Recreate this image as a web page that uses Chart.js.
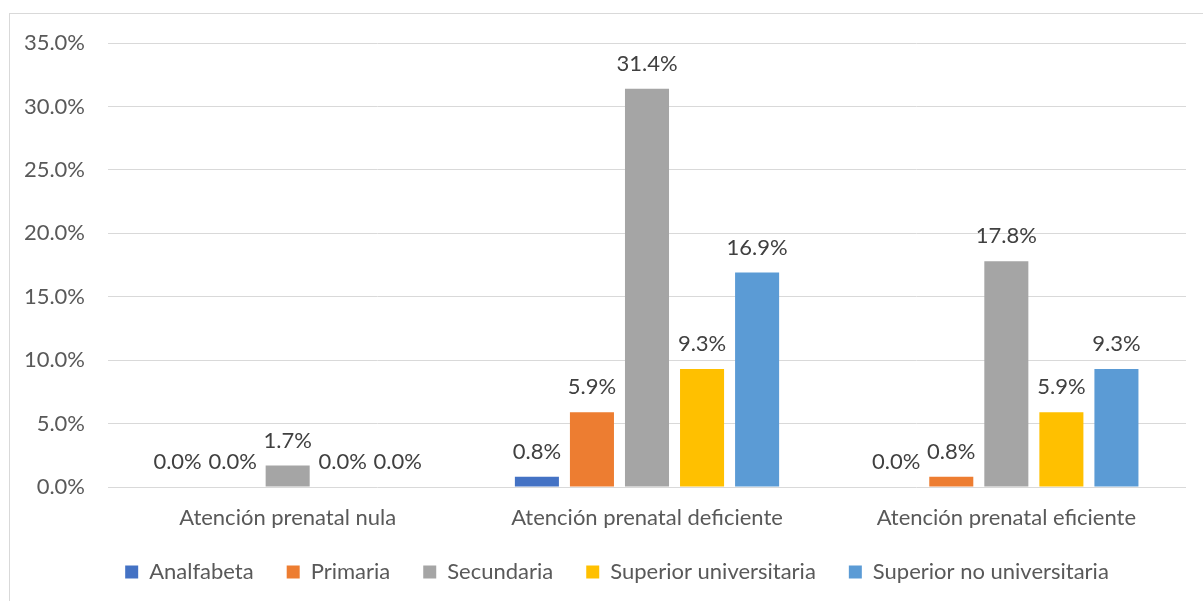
<!DOCTYPE html>
<html>
<head>
<meta charset="utf-8">
<script src="https://cdn.jsdelivr.net/npm/chart.js@4"></script>
<style>
    html, body { margin: 0; padding: 0; background: #fff; }
    #frame {
        position: absolute; left: 9px; top: 13px;
        width: 1210px; height: 610px;
        border: 1px solid #d9d9d9;
    }
    #wrap { position: absolute; left: 0; top: 0; width: 1203px; height: 601px; }
</style>
</head>
<body>
<div id="frame"></div>
<div id="wrap"><canvas id="chart" width="1203" height="601"></canvas></div>
<script>
// Categories and series (percent)
const categories = ["Atención prenatal nula", "Atención prenatal deficiente", "Atención prenatal eficiente"];
const analfabeta = [0.0, 0.8, 0.0];
const primaria = [0.0, 5.9, 0.8];
const secundaria = [1.7, 31.4, 17.8];
const superiorUniv = [0.0, 9.3, 5.9];
const superiorNoUniv = [0.0, 16.9, 9.3];
const yTicks = [0, 5, 10, 15, 20, 25, 30, 35];

const FONT = "Lato, 'Open Sans', sans-serif";

// draws the value above each bar
const valueLabels = {
    id: "valueLabels",
    afterDatasetsDraw(chart) {
        const ctx = chart.ctx;
        ctx.save();
        ctx.font = "22px " + FONT;
        ctx.fillStyle = "#404040";
        ctx.textAlign = "center";
        ctx.textBaseline = "middle";
        chart.data.datasets.forEach((ds, i) => {
            chart.getDatasetMeta(i).data.forEach((bar, j) => {
                ctx.fillText(ds.data[j].toFixed(1) + "%", bar.x, bar.y - 25);
            });
        });
        ctx.restore();
    },
};

// legend in the original is centred on the frame, a bit to the right
const legendShift = {
    id: "legendShift",
    afterLayout(chart) {
        chart.legend.left += 24;
        chart.legend.right += 24;
    },
};

function makeSet(label, data, color) {
    return {
        label: label,
        data: data,
        backgroundColor: color,
        borderWidth: 0,
        barPercentage: 0.8,
        categoryPercentage: 0.766,
    };
}

new Chart(document.getElementById("chart"), {
    type: "bar",
    data: {
        labels: categories,
        datasets: [
            makeSet("Analfabeta", analfabeta, "#4472C4"),
            makeSet("Primaria", primaria, "#ED7D31"),
            makeSet("Secundaria", secundaria, "#A5A5A5"),
            makeSet("Superior universitaria", superiorUniv, "#FFC000"),
            makeSet("Superior no universitaria", superiorNoUniv, "#5B9BD5"),
        ],
    },
    options: {
        responsive: false,
        animation: false,
        layout: { padding: { top: 43, right: 17, bottom: 8, left: 0 } },
        plugins: {
            tooltip: { enabled: false },
            legend: {
                position: "bottom",
                labels: {
                    boxWidth: 13,
                    boxHeight: 13,
                    padding: 33,
                    color: "#595959",
                    font: { family: FONT, size: 22 },
                },
            },
        },
        scales: {
            x: {
                grid: { display: false },
                border: { display: false },
                ticks: {
                    color: "#595959",
                    padding: 10,
                    font: { family: FONT, size: 22 },
                },
                afterFit(scale) { scale.height = 41; },
            },
            y: {
                min: 0,
                max: yTicks[yTicks.length - 1],
                afterBuildTicks(scale) {
                    scale.ticks = yTicks.map((v) => ({ value: v }));
                },
                grid: { color: "#d9d9d9", drawTicks: false },
                border: { display: false },
                ticks: {
                    color: "#595959",
                    padding: 23,
                    font: { family: FONT, size: 22 },
                    callback: (v) => v.toFixed(1) + "%",
                },
                afterFit(scale) { scale.width = 108; },
            },
        },
    },
    plugins: [valueLabels, legendShift],
});
</script>
</body>
</html>
